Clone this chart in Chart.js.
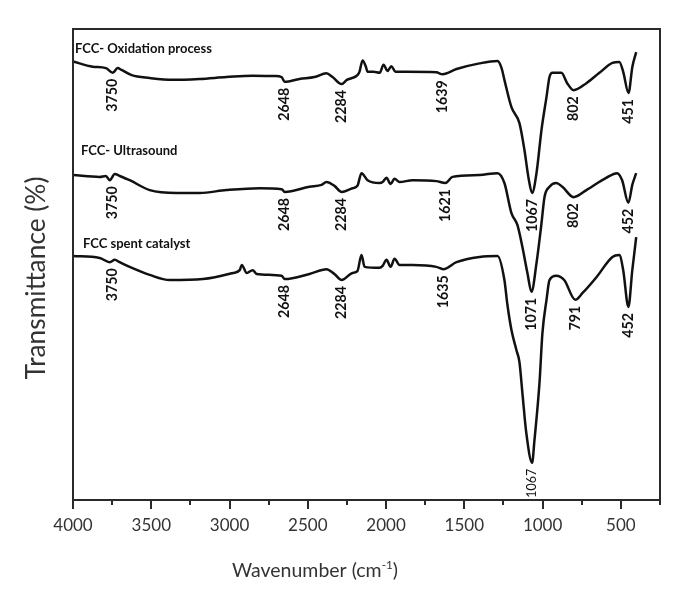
<!DOCTYPE html>
<html><head><meta charset="utf-8">
<script src="https://cdn.jsdelivr.net/npm/chart.js@4"></script>
<style>html,body{margin:0;padding:0;background:#fff;}#wrap{width:691px;height:610px;}</style>
</head><body><div id="wrap"><canvas id="c" width="691" height="610"></canvas></div>
<script>
// ---- data (wavenumber cm-1 / relative transmittance) ----
const wnOx = [4000,3874,3790,3746,3715,3690,3625,3510,3364,3192,3020,2854,2712,2667,2648,2553,2457,2381,2342,2284,2250,2215,2183,2170,2150,2130,2118,2080,2041,2016,1991,1966,1940,1870,1679,1639,1550,1403,1288,1262,1244,1199,1148,1116,1091,1067,1039,1007,975,956,937,880,843,802,720,637,554,510,485,451,427,402];
const tOx  = [93.1,92.0,91.7,90.7,91.7,91.3,90.2,89.6,89.2,89.4,89.8,90.1,90.0,89.8,88.8,89.4,89.8,90.6,89.8,88.3,89.2,89.6,90.2,90.9,93.3,92.1,90.9,90.9,90.7,92.4,91.1,92.1,90.9,90.9,90.8,90.4,91.5,92.7,93.2,91.7,89.2,83.4,80.0,74.3,68.6,65.2,69.4,78.6,85.6,89.8,90.7,90.7,88.5,87.0,88.5,90.7,92.8,93.0,90.9,86.4,91.9,95.1];

const wnUs = [4000,3830,3790,3765,3733,3702,3638,3510,3338,3192,3020,2808,2667,2648,2489,2412,2381,2330,2284,2215,2183,2157,2118,2041,2022,1997,1971,1946,1914,1830,1679,1621,1576,1403,1288,1244,1199,1161,1129,1097,1071,1039,1007,988,956,913,874,802,720,594,524,492,452,427,402];
const tUs  = [69.0,68.6,68.8,67.9,69.2,68.8,67.9,65.8,65.2,65.2,65.8,66.2,66.0,65.4,66.5,66.9,67.5,66.7,65.4,66.2,66.7,69.4,67.9,67.3,67.5,68.4,67.1,68.2,67.5,67.9,67.7,67.3,68.6,69.0,69.4,67.3,60.9,58.4,53.7,48.2,44.2,50.3,58.8,64.3,66.5,67.3,66.5,64.3,65.8,68.4,69.4,67.9,63.1,66.9,69.4];

const wnSp = [4000,3830,3765,3733,3702,3638,3510,3382,3170,2978,2935,2922,2890,2852,2827,2667,2648,2489,2381,2330,2284,2215,2183,2157,2137,2041,2022,1997,1971,1946,1914,1830,1679,1635,1550,1403,1288,1244,1225,1199,1167,1148,1129,1104,1067,1052,1020,1001,975,956,913,862,791,746,656,554,510,485,452,427,402];
const tSp  = [51.8,51.4,50.5,51.0,50.5,49.5,47.8,46.7,46.9,48.2,48.8,49.9,48.2,48.8,48.0,47.6,46.9,48.0,49.0,48.0,46.7,48.2,48.6,52.0,49.5,49.3,49.7,51.0,49.5,51.2,49.9,49.9,49.5,49.0,50.5,51.6,51.8,46.7,41.5,36.1,31.8,29.3,22.7,14.2,7.9,12.7,24.8,35.5,42.5,46.7,47.6,46.7,42.5,43.9,47.3,51.6,52.0,48.8,41.0,48.8,55.8];

const seriesNames = ['FCC- Oxidation process','FCC- Ultrasound','FCC spent catalyst'];
const peaksOx = [3750,2648,2284,1639,1067,802,451];
const peaksUs = [3750,2648,2284,1621,1071,802,452];
const peaksSp = [3750,2648,2284,1635,1067,791,452];
const xTickLabels = [4000,3500,3000,2500,2000,1500,1000,500];
const xTitleText = 'Wavenumber (cm';
const xTitleSup = '-1';
const yTitleText = 'Transmittance (%)';

const FONT = "Lato, 'Open Sans', sans-serif";

function pts(wn, t){ return wn.map((w,i)=>({x:w, y:t[i]})); }

function fitSize(ctx, text, weight, target){
  ctx.font = weight + ' 100px ' + FONT;
  return 100 * target / ctx.measureText(text).width;
}

const decor = {
  id: 'decor',
  afterDraw(chart){
    const ctx = chart.ctx, a = chart.chartArea;
    const xs = chart.scales.x, ys = chart.scales.y;
    ctx.save();
    // frame
    ctx.strokeStyle = '#2a2a2a'; ctx.lineWidth = 2;
    ctx.strokeRect(a.left, a.top, a.right - a.left, a.bottom - a.top);
    // tick marks
    ctx.beginPath();
    for (let v = 250; v <= 4000; v += 250){
      const px = Math.round(xs.getPixelForValue(v));
      const len = (v % 500 === 0) ? 9 : 5;
      ctx.moveTo(px, a.bottom); ctx.lineTo(px, a.bottom + len);
    }
    ctx.stroke();

    // series names
    const nameSize = fitSize(ctx, seriesNames[0], 'bold', 137);
    ctx.font = 'bold ' + nameSize.toFixed(2) + 'px ' + FONT;
    ctx.fillStyle = '#111'; ctx.textAlign = 'left'; ctx.textBaseline = 'middle';
    const nameAnchors = [[2,49],[8,151],[10,244]];
    seriesNames.forEach((n,i)=> ctx.fillText(n, a.left + nameAnchors[i][0], nameAnchors[i][1]));

    // peak labels
    const peakSize = fitSize(ctx, '3750', 'bold', 33);
    const sets = [[wnOx,tOx,peaksOx],[wnUs,tUs,peaksUs],[wnSp,tSp,peaksSp]];
    sets.forEach(([wn,t,pk],si)=>{
      pk.forEach(p=>{
        let m = Infinity;
        wn.forEach((w,i)=>{ if (Math.abs(w-p) <= 40) m = Math.min(m, t[i]); });
        const px = xs.getPixelForValue(p);
        const py = ys.getPixelForValue(m) + 6;
        const big = (si === 2 && p === 1067);
        ctx.save();
        ctx.translate(px, py);
        ctx.rotate(-Math.PI/2);
        ctx.font = big ? ('normal ' + fitSize(ctx, '1067', 'normal', 29).toFixed(2) + 'px ' + FONT)
                       : ('bold ' + peakSize.toFixed(2) + 'px ' + FONT);
        ctx.textAlign = 'right'; ctx.textBaseline = 'middle';
        ctx.fillStyle = '#111';
        ctx.fillText(String(p), 0, 0);
        ctx.restore();
      });
    });

    // y title
    const ySize = fitSize(ctx, yTitleText, 'normal', 203);
    ctx.save();
    ctx.translate(37, 278);
    ctx.rotate(-Math.PI/2);
    ctx.font = 'normal ' + ySize.toFixed(2) + 'px ' + FONT;
    ctx.fillStyle = '#333'; ctx.textAlign = 'center'; ctx.textBaseline = 'middle';
    ctx.fillText(yTitleText, 0, 0);
    ctx.restore();

    // x title with superscript
    ctx.font = 'normal 100px ' + FONT;
    const w1 = ctx.measureText(xTitleText).width, w3 = ctx.measureText(')').width;
    ctx.font = 'normal 60px ' + FONT;
    const w2 = ctx.measureText(xTitleSup).width;
    const s = 100 * 166 / (w1 + w2 + w3);
    const k = s / 100;
    let x0 = 315 - (w1 + w2 + w3) * k / 2;
    const yb = 577;
    ctx.fillStyle = '#333'; ctx.textAlign = 'left'; ctx.textBaseline = 'alphabetic';
    ctx.font = 'normal ' + s.toFixed(2) + 'px ' + FONT;
    ctx.fillText(xTitleText, x0, yb); x0 += w1 * k;
    ctx.font = 'normal ' + (s*0.6).toFixed(2) + 'px ' + FONT;
    ctx.fillText(xTitleSup, x0, yb - s*0.42); x0 += w2 * k;
    ctx.font = 'normal ' + s.toFixed(2) + 'px ' + FONT;
    ctx.fillText(')', x0, yb);
    ctx.restore();
  }
};

const lineDs = (label, data) => ({
  label, data, borderColor: '#111', borderWidth: 2.5, pointRadius: 0,
  fill: false, cubicInterpolationMode: 'monotone'
});

new Chart(document.getElementById('c'), {
  type: 'line',
  data: { datasets: [
    lineDs(seriesNames[0], pts(wnOx, tOx)),
    lineDs(seriesNames[1], pts(wnUs, tUs)),
    lineDs(seriesNames[2], pts(wnSp, tSp))
  ]},
  options: {
    responsive: false, animation: false, devicePixelRatio: 1,
    layout: { padding: { left: 73, top: 29, right: 31, bottom: 70 } },
    plugins: { legend: { display: false }, tooltip: { enabled: false } },
    scales: {
      x: {
        type: 'linear', reverse: true, min: 250, max: 4000,
        grid: { display: false, drawTicks: false }, border: { display: false },
        ticks: {
          stepSize: 250, autoSkip: false, maxRotation: 0, padding: 15,
          color: '#333', font: { family: FONT, size: 17 },
          callback: v => xTickLabels.includes(v) ? String(v) : ''
        },
        afterFit: sc => { sc.height = 40; }
      },
      y: { display: false, min: 0, max: 100 }
    }
  },
  plugins: [decor]
});
</script>
</body></html>
